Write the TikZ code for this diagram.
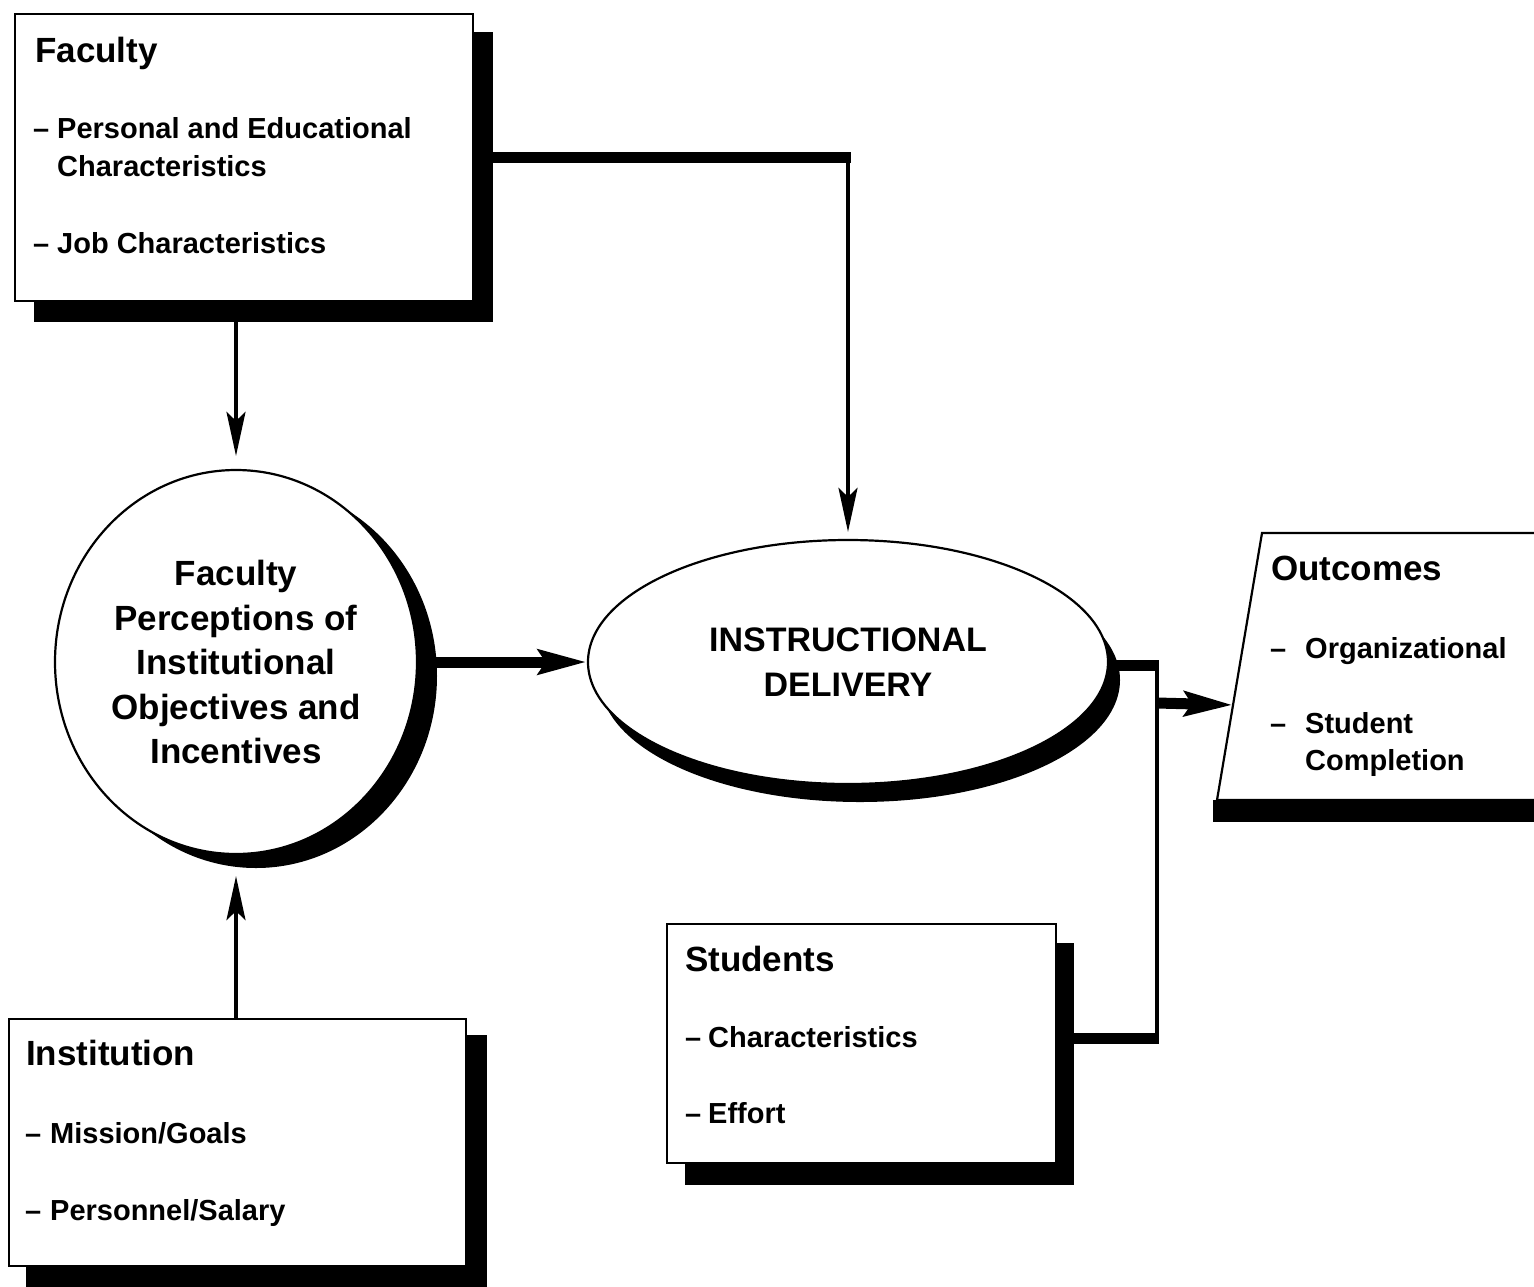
\documentclass[tikz,border=0pt]{standalone}
\usepackage{fontspec}
\setmainfont{Liberation Sans}
\usetikzlibrary{arrows.meta,calc,shapes.geometric}
\newcommand\itemdash[1]{\makebox[#1][l]{–}}
\begin{document}
\begin{tikzpicture}[x=1pt,y=1pt,
  boxline/.style={draw=black, line width=2.2pt, fill=white, inner sep=0pt},
  shade/.style={fill=black, draw=none, inner sep=0pt},
  headtxt/.style={font=\fontsize{35}{42}\selectfont\bfseries, anchor=base west, inner sep=0pt},
  itemtxt/.style={font=\fontsize{29}{38}\selectfont\bfseries, anchor=base west, inner sep=0pt},
  thinarrow/.style={line width=3.5pt, -{Stealth[length=44pt,width=19pt,inset=9pt]}},
  thickline/.style={line width=11pt},
  thickarrow/.style={line width=11pt, -{Stealth[length=48pt,width=24pt,inset=7pt]}},
]
\useasboundingbox (0,0) rectangle (1534,-1286);
\clip (0,0) rectangle (1534,-1286);
\fill[white] (0,0) rectangle (1534,-1286);

% ---------- Faculty box ----------
\node[shade, minimum width=459pt, minimum height=290pt, anchor=north west] (facsh) at (34,-32) {};
\node[boxline, minimum width=458pt, minimum height=287pt, anchor=north west] (fac) at (14,-13) {};
\node[headtxt] (facH) at (35,-62) {Faculty};
\node[itemtxt] (facA) at (33,-138) {\itemdash{24pt}Personal and Educational};
\node[itemtxt] (facB) at (57,-176) {Characteristics};
\node[itemtxt] (facC) at (33,-253) {\itemdash{24pt}Job Characteristics};

% ---------- Institution box ----------
\node[shade, minimum width=461pt, minimum height=270pt, anchor=north west] (instsh) at (26,-1035) {};
\node[boxline, minimum width=457pt, minimum height=247pt, anchor=north west] (inst) at (8,-1018) {};
\node[headtxt] (instH) at (26,-1065) {Institution};
\node[itemtxt] (instA) at (25,-1143) {\itemdash{25pt}Mission/Goals};
\node[itemtxt] (instB) at (25,-1220) {\itemdash{25pt}Personnel/Salary};

% ---------- Students box ----------
\node[shade, minimum width=389pt, minimum height=242pt, anchor=north west] (stush) at (685,-943) {};
\node[boxline, minimum width=389pt, minimum height=239pt, anchor=north west] (stu) at (666,-923) {};
\node[headtxt] (stuH) at (685,-971) {Students};
\node[itemtxt] (stuA) at (685,-1047) {\itemdash{23pt}Characteristics};
\node[itemtxt] (stuB) at (685,-1123) {\itemdash{23pt}Effort};

% ---------- Outcomes box ----------
\coordinate (outTL) at (1262,-533);
\coordinate (outBL) at (1217,-800);
\fill (1213,-800) rectangle (1545,-822);
\draw[line width=2.2pt, fill=white] (outTL) -- (1545,-533) -- (1545,-800) -- (outBL) -- cycle;
\node[headtxt] (outH) at (1271,-580) {Outcomes};
\node[itemtxt] (outA) at (1270,-658) {\itemdash{35pt}Organizational};
\node[itemtxt] (outB) at (1270,-733) {\itemdash{35pt}Student};
\node[itemtxt] (outC) at (1305,-770) {Completion};

% ---------- Perceptions circle ----------
\node[shade, ellipse, minimum width=362pt, minimum height=384pt] (percsh) at (256,-676) {};
\node[boxline, ellipse, minimum width=362pt, minimum height=384pt, align=center,
      font=\fontsize{35}{44.5}\selectfont\bfseries] (perc) at (236,-662)
      {Faculty\\Perceptions of\\Institutional\\Objectives and\\Incentives};

% ---------- Instructional delivery ellipse ----------
\node[shade, ellipse, minimum width=520pt, minimum height=244pt] (instrsh) at (860,-680) {};
\node[boxline, ellipse, minimum width=520pt, minimum height=244pt, align=center,
      font=\fontsize{34}{45}\selectfont\bfseries] (instr) at (848,-662)
      {INSTRUCTIONAL\\DELIVERY};

% ---------- connectors ----------
\draw[thinarrow, shorten >=13pt] (perc.north |- facsh.south) -- (perc.north);
\draw[thinarrow, shorten >=21pt] (perc.south |- inst.north) -- (perc.south);
\draw[thickline] (facsh.east |- fac.center) -- ([xshift=3pt]instr.north |- fac.center);
\draw[thinarrow, shorten >=7pt] ([yshift=5.5pt]instr.north |- fac.center) -- (instr.north);
\draw[thickarrow] ([xshift=-2pt]percsh.east |- instr.west) -- (instr.west);

\coordinate (bustop) at (1157,-665);
\coordinate (busbot) at (1157,-1038);
\coordinate (busout) at (1157,-703);
\coordinate (outin) at ($(outTL)!0.644!(outBL)$);
\draw[thickline] ([xshift=-6pt]instrsh.east |- bustop) -- ([xshift=2pt]bustop);
\draw[line width=3.5pt] ([yshift=5pt]bustop) -- ([yshift=-5pt]busbot);
\draw[thickline] ([xshift=-2pt]stush.east |- busbot) -- ([xshift=2pt]busbot);
\draw[thickarrow] (busout) -- (outin);
\end{tikzpicture}
\end{document}
